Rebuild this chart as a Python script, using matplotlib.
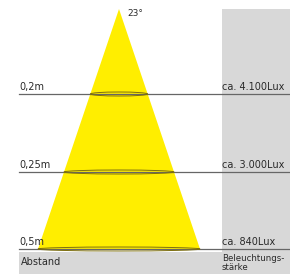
import matplotlib
matplotlib.use("Agg")
import matplotlib.pyplot as plt
from matplotlib.patches import Polygon, Rectangle, Ellipse

# Data
beam_angle = 23
distance_labels = ["0,2m", "0,25m", "0,5m"]
lux_labels = ["ca. 4.100Lux", "ca. 3.000Lux", "ca. 840Lux"]
footer_left = "Abstand"
footer_right = "Beleuchtungs-\nstärke"

# Layout (pixel coordinates)
W, H = 290, 274
level_y = [94, 172, 249]
apex = (119, 9)
base_y = 249
base_half = 81

fig = plt.figure(figsize=(W / 100, H / 100), dpi=100)
ax = fig.add_axes([0, 0, 1, 1])
ax.set_xlim(0, W)
ax.set_ylim(H, 0)
ax.axis("off")

gray = "#d8d8d8"
ax.add_patch(Rectangle((222, 9), W - 222, H - 9, color=gray, lw=0, zorder=0))
ax.add_patch(Rectangle((19, 252), W - 19, H - 252, color=gray, lw=0, zorder=0))

yellow = "#ffee00"
ax.add_patch(Polygon([apex, (apex[0] - base_half, base_y), (apex[0] + base_half, base_y)],
                     closed=True, color=yellow, lw=0, zorder=1))

tc = "#2a2a2a"
for y, dl, ll in zip(level_y, distance_labels, lux_labels):
    ax.plot([19, W], [y, y], color="#666666", lw=0.9, zorder=2)
    hw = base_half * (y - apex[1]) / (base_y - apex[1])
    ax.add_patch(Ellipse((apex[0], y), 2 * hw, 4, fill=False, ec="#7d6f10", lw=0.7, zorder=3))
    ax.text(19, y - 2, dl, fontsize=7, color=tc, ha="left", va="bottom", zorder=4)
    ax.text(222, y - 2, ll, fontsize=7, color=tc, ha="left", va="bottom", zorder=4)

ax.text(127, 18, f"{beam_angle}°", fontsize=6.5, color=tc, ha="left", va="bottom")
ax.text(21, 262, footer_left, fontsize=7, color=tc, ha="left", va="center")
ax.text(222, 254, footer_right, fontsize=6.2, color=tc, ha="left", va="top", linespacing=1.05)

fig.savefig("out.png", dpi=100)
